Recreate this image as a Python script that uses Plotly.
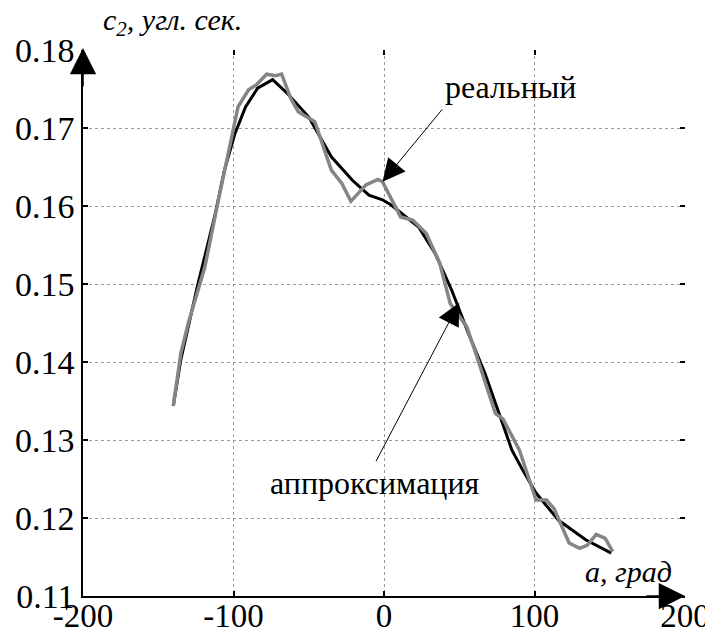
import plotly.graph_objects as go

# Approximation curve (black)
x_approx = [-140, -135, -124, -112, -106, -99, -92, -84, -74, -64, -50, -35, -21, -10, -1, 5,
            23, 34, 45, 56, 67, 77, 85, 92, 101, 116, 134, 151]
y_approx = [0.1344, 0.1403, 0.1497, 0.1591, 0.1646, 0.1693, 0.1727, 0.1751, 0.1762, 0.1744,
            0.1714, 0.1663, 0.1633, 0.1614, 0.1608, 0.1601, 0.1573, 0.1539, 0.1492, 0.1437,
            0.1386, 0.1330, 0.1287, 0.1262, 0.1232, 0.1197, 0.1172, 0.1155]

# Real curve (gray)
x_real = [-140, -135, -130, -119, -110, -104, -97, -90, -85, -78, -72, -68, -62, -57, -46, -35,
          -28, -22, -12, -4, -1, 11, 19, 28, 37, 44, 55, 61, 74, 79, 90, 101, 108, 113, 123,
          130, 135, 141, 147, 152]
y_real = [0.1344, 0.1411, 0.1450, 0.1522, 0.1608, 0.1663, 0.1727, 0.1749, 0.1755, 0.1769,
          0.1767, 0.1769, 0.1738, 0.1721, 0.1708, 0.1646, 0.1629, 0.1606, 0.1627, 0.1634,
          0.1631, 0.1586, 0.1582, 0.1565, 0.1527, 0.1475, 0.1445, 0.1411, 0.1334, 0.1327,
          0.1287, 0.1223, 0.1223, 0.1212, 0.1168, 0.1161, 0.1165, 0.1179, 0.1174, 0.1157]

x_ticks = [-200, -100, 0, 100, 200]
x_tick_text = ["-200", "-100", "0", "100", "200"]
y_ticks = [0.11, 0.12, 0.13, 0.14, 0.15, 0.16, 0.17, 0.18]
y_tick_text = ["0.11", "0.12", "0.13", "0.14", "0.15", "0.16", "0.17", "0.18"]

label_real = "реальный"
label_approx = "аппроксимация"
y_title = "c<sub>2</sub>, угл. сек."
x_title = "a, град"

FONT = "Liberation Serif"

fig = go.Figure()
fig.add_trace(go.Scatter(x=x_approx, y=y_approx, mode="lines",
                         line=dict(color="black", width=3), showlegend=False))
fig.add_trace(go.Scatter(x=x_real, y=y_real, mode="lines",
                         line=dict(color="#858585", width=3.5), showlegend=False))

grid = dict(showgrid=True, gridcolor="#9a9a9a", griddash="dot", gridwidth=1)

# page body has an 8px margin, so the figure is 8px smaller than the window
fig.update_layout(
    width=705, height=627,
    margin=dict(l=75, r=28, t=42, b=39, autoexpand=False),
    plot_bgcolor="white", paper_bgcolor="white",
    font=dict(family=FONT, size=34, color="black"),
    xaxis=dict(range=[-200, 200], tickvals=x_ticks, ticktext=x_tick_text, automargin=False,
               ticks="inside", ticklen=5, tickwidth=1.5, tickcolor="black",
               ticklabelstandoff=-10, tickfont=dict(size=33),
               showline=True, linecolor="black", linewidth=1.5, zeroline=False,
               **grid),
    yaxis=dict(range=[0.11, 0.18], tickvals=y_ticks, ticktext=y_tick_text, automargin=False,
               ticks="inside", ticklen=5, tickwidth=1.5, tickcolor="black",
               showline=True, linecolor="black", linewidth=1.5, zeroline=False,
               **grid),
    xaxis2=dict(overlaying="x", matches="x", side="top", tickvals=x_ticks, automargin=False,
                ticks="inside", ticklen=5, tickwidth=1.5, tickcolor="black",
                showticklabels=False, showgrid=False, showline=False, zeroline=False),
    yaxis2=dict(overlaying="y", matches="y", side="right", tickvals=y_ticks, automargin=False,
                ticks="inside", ticklen=5, tickwidth=1.5, tickcolor="black",
                showticklabels=False, showgrid=False, showline=False, zeroline=False),
)
# invisible trace to activate mirror axes
fig.add_trace(go.Scatter(x=[None], y=[None], xaxis="x2", yaxis="y2", showlegend=False))

# Axis arrows
fig.add_annotation(x=200, y=0.11, xref="x", yref="y", ax=-40, ay=0,
                   showarrow=True, arrowhead=2, arrowsize=3.5, arrowwidth=1.5, arrowcolor="black",
                   standoff=0, text="")
fig.add_annotation(x=-200, y=0.18, xref="x", yref="y", ax=0, ay=40, yshift=2,
                   showarrow=True, arrowhead=2, arrowsize=3.5, arrowwidth=1.5, arrowcolor="black",
                   standoff=0, text="")

# Axis titles
fig.add_annotation(x=-188, y=0.18, xref="x", yref="y", yshift=7, text=y_title,
                   showarrow=False, xanchor="left", yanchor="bottom",
                   font=dict(family=FONT, size=30, color="black", style="italic"))
fig.add_annotation(x=193, y=0.11, xref="x", yref="y", yshift=6, text=x_title,
                   showarrow=False, xanchor="right", yanchor="bottom",
                   font=dict(family=FONT, size=30, color="black", style="italic"))

# Curve labels
fig.add_annotation(x=-1, y=0.1631, xref="x", yref="y", ax=61, ay=-74,
                   showarrow=True, arrowhead=2, arrowsize=4.5, arrowwidth=1, arrowcolor="black",
                   standoff=0, text="")
fig.add_annotation(x=84, y=0.1752, xref="x", yref="y", text=label_real, showarrow=False,
                   font=dict(family=FONT, size=32, color="black"))
fig.add_annotation(x=50, y=0.1476, xref="x", yref="y", ax=-84, ay=160,
                   showarrow=True, arrowhead=2, arrowsize=4.5, arrowwidth=1, arrowcolor="black",
                   standoff=0, text="")
fig.add_annotation(x=-6, y=0.1245, xref="x", yref="y", text=label_approx, showarrow=False,
                   font=dict(family=FONT, size=32, color="black"))

fig.write_html("out.html")
